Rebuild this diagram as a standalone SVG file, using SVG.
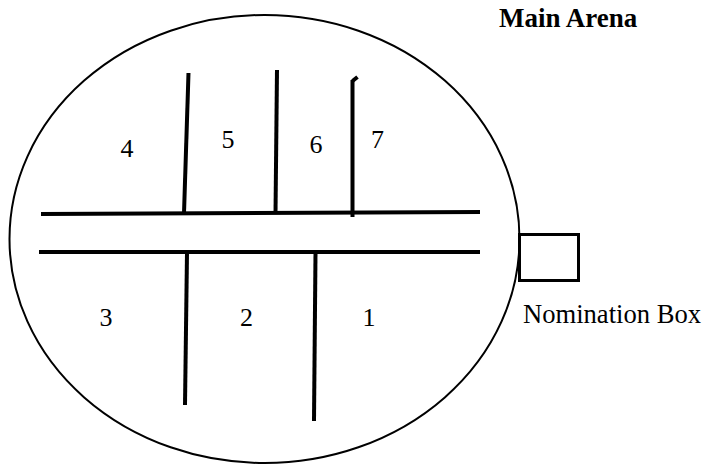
<svg xmlns="http://www.w3.org/2000/svg" width="703" height="464" viewBox="0 0 703 464">
<style>
.wall{stroke:#000;stroke-width:4;fill:none;stroke-linecap:butt}
.outline{stroke:#000;stroke-width:2;fill:none}
.lbl{font-family:"Liberation Serif","Times New Roman",serif;font-size:26px;fill:#000}
.num{text-anchor:middle}
.title{font-weight:bold;font-size:27px}
</style>
<rect width="703" height="464" fill="#fff"/>
<g id="arena">
<ellipse class="outline" cx="264.5" cy="239" rx="255" ry="224"/>
</g>
<g id="walls">
<line class="wall" x1="41" y1="214" x2="480" y2="212"/>
<line class="wall" x1="39" y1="252" x2="480" y2="252"/>
<line class="wall" x1="188.5" y1="73" x2="184" y2="213"/>
<line class="wall" x1="277" y1="70" x2="275.5" y2="213"/>
<line class="wall" x1="352.5" y1="80" x2="352.5" y2="217"/>
<polyline class="wall" points="352.5,81 355,79 357.5,77" stroke-width="3"/>
<line class="wall" x1="187" y1="253" x2="185" y2="405"/>
<line class="wall" x1="315.5" y1="253" x2="314" y2="421"/>
</g>
<g id="nomination-box">
<rect x="519.5" y="234.5" width="59" height="46" fill="none" stroke="#000" stroke-width="3"/>
<text class="lbl" x="523" y="323" style="font-size:26.6px">Nomination Box</text>
</g>
<g id="title">
<text class="lbl title" x="499" y="27">Main Arena</text>
</g>
<g id="sections">
<text class="lbl num" x="127" y="157">4</text>
<text class="lbl num" x="228" y="148">5</text>
<text class="lbl num" x="316" y="153">6</text>
<text class="lbl num" x="377.5" y="148">7</text>
<text class="lbl num" x="106" y="326">3</text>
<text class="lbl num" x="246.5" y="326">2</text>
<text class="lbl num" x="369" y="326">1</text>
</g>
</svg>
